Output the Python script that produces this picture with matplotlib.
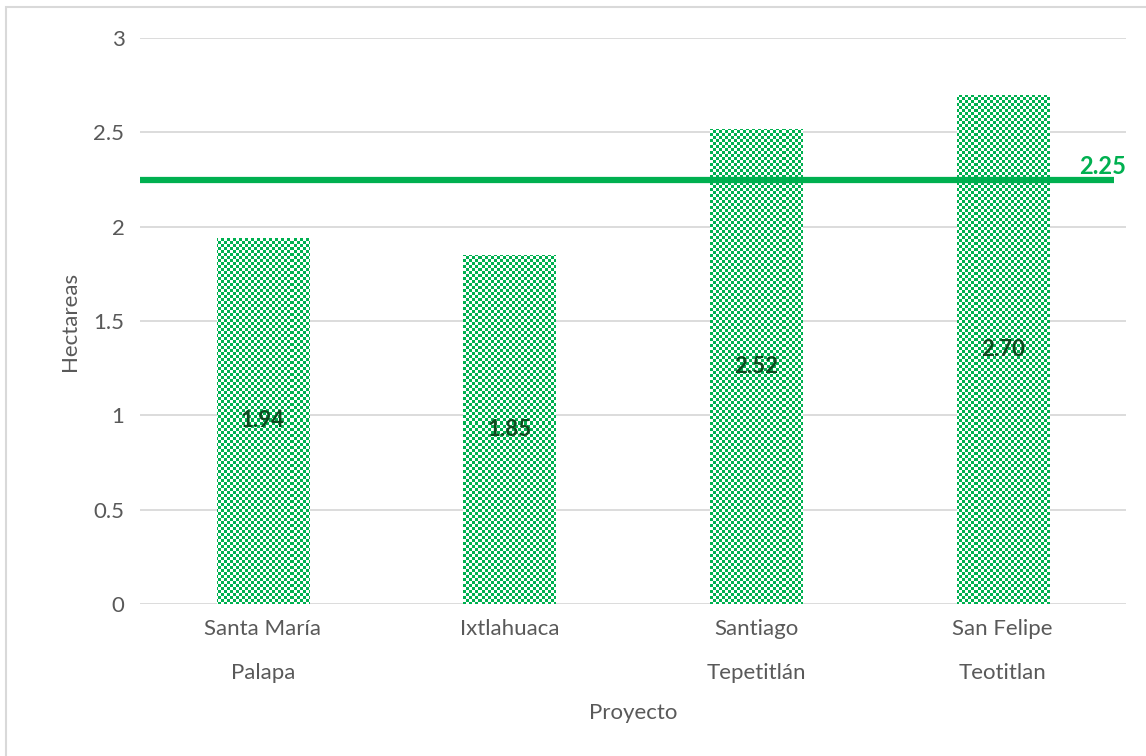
import numpy as np
import matplotlib
matplotlib.use("Agg")
import matplotlib.pyplot as plt
from matplotlib.patches import Rectangle

categories = ["Santa María\nPalapa", "Ixtlahuaca", "Santiago\nTepetitlán", "San Felipe\nTeotitlan"]
values = [1.94, 1.85, 2.52, 2.70]
mean_value = 2.25
yticks = [0, 0.5, 1, 1.5, 2, 2.5, 3]
ytick_labels = ["0", "0.5", "1", "1.5", "2", "2.5", "3"]

W, H, DPI = 1146, 756, 100
GREEN = "#00b050"
TXT = "#595959"
plt.rcParams['font.family'] = ['Lato', 'DejaVu Sans']

fig = plt.figure(figsize=(W / DPI, H / DPI), dpi=DPI)
fig.patch.set_facecolor("white")

# chart border
fig.add_artist(Rectangle((6 / W, -0.2), 1.2, 1 - 7 / H + 0.2, transform=fig.transFigure,
                         fill=False, edgecolor="#d9d9d9", linewidth=1.5))

left, right = 139.7 / W, 1126 / W
bottom, top = 1 - 604 / H, 1 - 38 / H
ax = fig.add_axes([left, bottom, right - left, top - bottom])

x = np.arange(len(categories))
ax.set_xlim(-0.5, len(categories) - 0.5)
ax.set_ylim(0, 3)
ax.set_yticks(yticks)
ax.set_yticklabels(ytick_labels)
ax.grid(axis="y", color="#d9d9d9", linewidth=1.3, zorder=0)
ax.set_axisbelow(True)
for s in ax.spines.values():
    s.set_visible(False)
ax.tick_params(length=0, labelsize=16, labelcolor=TXT)
ax.tick_params(axis="y", pad=11)
ax.tick_params(axis="x", pad=11)
ax.set_xticks(x)
ax.set_xticklabels(categories, linespacing=2.5)

bars = ax.bar(x, values, width=0.374, color="white", edgecolor="none", zorder=2)

# checkerboard fill (pattern) clipped to bars
axw = int(round((right - left) * W))
axh = int(round((top - bottom) * H))
cell = 3
yy, xx = np.mgrid[0:axh, 0:axw]
chk = ((xx // cell + yy // cell) % 2 == 0)
img = np.ones((axh, axw, 3))
g = np.array([0x00, 0xb0, 0x50]) / 255.0
img[chk] = g
for b in bars:
    im = ax.imshow(img, extent=(-0.5, len(categories) - 0.5, 0, 3), aspect="auto",
                   interpolation="nearest", zorder=3)
    im.set_clip_path(b)

for xi, v in zip(x, values):
    ax.text(xi, v / 2, f"{v:.2f}", ha="center", va="center", fontsize=16,
            fontweight="bold", color="#0e4a1e", zorder=5)

ax.plot([-0.5, 3.45], [mean_value, mean_value], color=GREEN, linewidth=4.5,
        solid_capstyle="butt", zorder=4)
ax.text(3.5, mean_value + 0.008, f"{mean_value:.2f}", ha="right", va="bottom",
        fontsize=17, fontweight="bold", color=GREEN, zorder=5)

ax.set_xlabel("Proyecto", fontsize=16, color=TXT, labelpad=14)
ax.set_ylabel("Hectareas", fontsize=16, color=TXT, labelpad=10)

fig.savefig("out.png", dpi=DPI)
